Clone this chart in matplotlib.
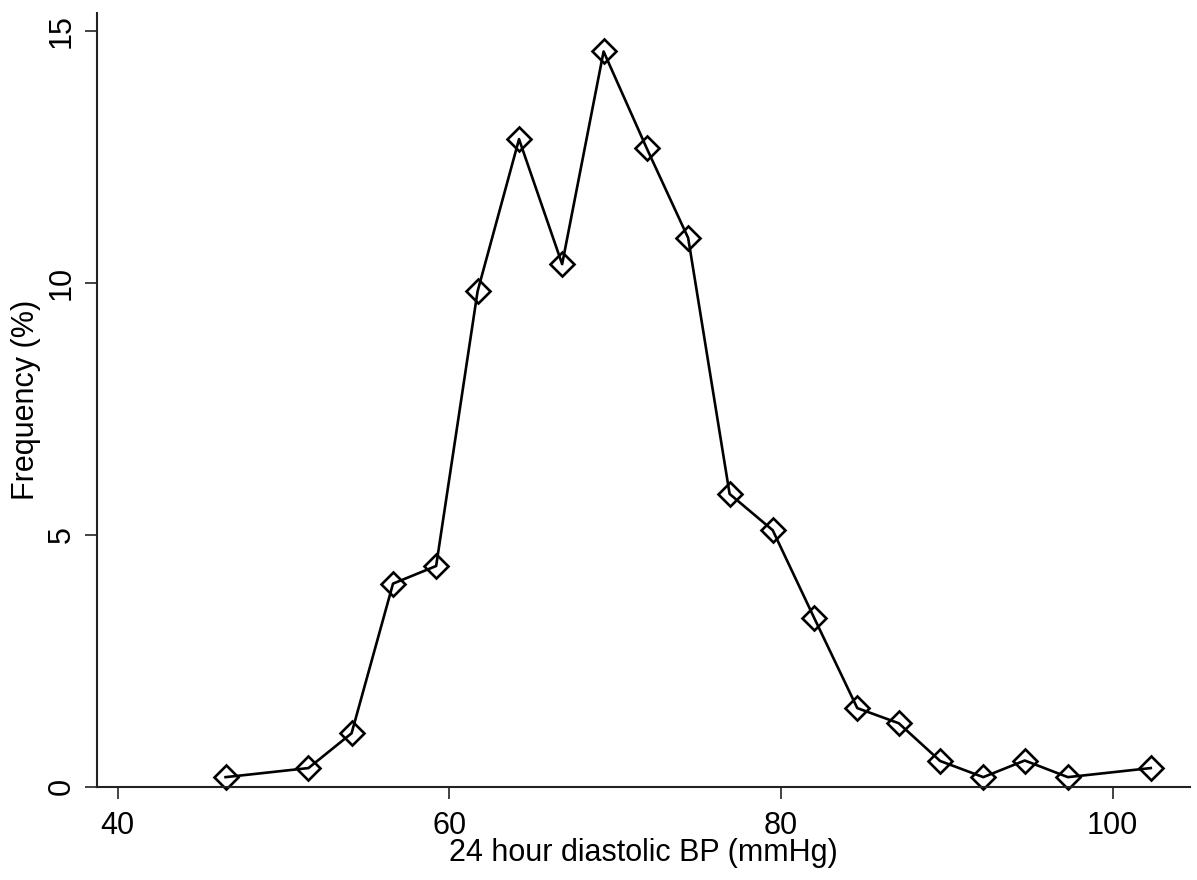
import matplotlib
matplotlib.use("Agg")
import matplotlib.pyplot as plt

plt.rcParams['font.family'] = ['Liberation Sans', 'DejaVu Sans']

# 24-hour diastolic blood pressure distribution (bin midpoints, mmHg)
bp_mmhg = [46.5, 51.5, 54.1, 56.6, 59.2, 61.7, 64.2, 66.8, 69.3, 71.9, 74.4,
           76.9, 79.5, 82.0, 84.6, 87.1, 89.6, 92.2, 94.7, 97.3, 102.3]
# Percentage of subjects in each bin
freq_pct = [0.19, 0.37, 1.06, 4.03, 4.38, 9.83, 12.85, 10.37, 14.59, 12.67, 10.89,
            5.81, 5.09, 3.35, 1.56, 1.26, 0.51, 0.19, 0.52, 0.19, 0.37]

x_ticks = [40, 60, 80, 100]
y_ticks = [0, 5, 10, 15]

fig = plt.figure(figsize=(11.97, 8.80), dpi=100)
ax = fig.add_axes([0.0808, 0.106, 0.9134, 0.8796])

ax.plot(bp_mmhg, freq_pct, color='black', linewidth=1.9,
        marker='D', markersize=12.5, markerfacecolor='none',
        markeredgecolor='black', markeredgewidth=1.9, clip_on=False)

ax.set_xlim(38.73, 104.67)
ax.set_ylim(0, 15.36)
ax.set_xticks(x_ticks)
ax.set_yticks(y_ticks)
ax.set_xticklabels([str(t) for t in x_ticks], fontsize=22)
ax.set_yticklabels([str(t) for t in y_ticks], fontsize=22, rotation=90, va='center')

for side in ('top', 'right'):
    ax.spines[side].set_visible(False)
for side in ('left', 'bottom'):
    ax.spines[side].set_linewidth(1.5)
    ax.spines[side].set_color('#222222')

ax.tick_params(axis='both', direction='out', length=8.6, width=1.2,
               color='#222222', labelcolor='black')
ax.tick_params(axis='x', pad=9)
ax.tick_params(axis='y', pad=6)

ax.set_xlabel('24 hour diastolic BP (mmHg)', fontsize=22, labelpad=-2)
ax.set_ylabel('Frequency (%)', fontsize=22, labelpad=4)

fig.savefig('out.png', dpi=100, facecolor='white')
